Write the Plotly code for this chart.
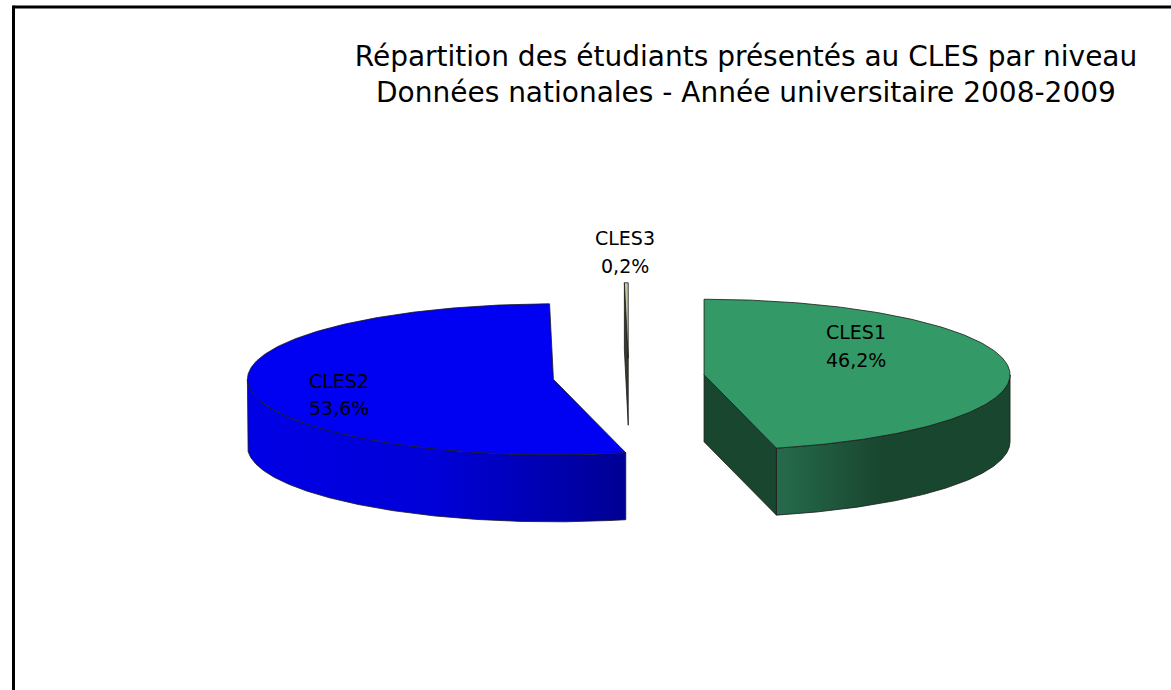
import numpy as np
import plotly.graph_objects as go

# Data
categories = ["CLES1", "CLES2", "CLES3"]
shares = [46.2, 53.6, 0.2]
title_lines = ["Répartition des étudiants présentés au CLES par niveau",
               "Données nationales - Année universitaire 2008-2009"]

# Style / projection of the tilted pie
top_colors = {"CLES1": "#339966", "CLES2": "#0000F2", "CLES3": "#C9C9A6"}
cut_colors = {"CLES1": "#19462E", "CLES2": "#000090", "CLES3": "#3A3A2C"}
wall_scales = {
    "CLES1": [[0, "#266B4C"], [0.45, "#19462E"], [1, "#19462E"]],
    "CLES2": [[0, "#0000E6"], [0.5, "#0000D8"], [1, "#000094"]],
    "CLES3": [[0, "#3A3A2C"], [1, "#3A3A2C"]],
}
CX, CY, RX, RY, DEPTH, EXPLODE = 628.7, 377.0, 306.0, 75.5, 67.0, 0.248
label_pos = {"CLES1": (856, 332, 360), "CLES2": (339, 381, 408), "CLES3": (625, 238, 266)}
FONT = "Comic Sans MS, DejaVu Sans, sans-serif"
EDGE = dict(color="#1a1a1a", width=0.8)

fig = go.Figure()


def rim(cx, cy, a1, a2, n=240):
    t = np.radians(np.linspace(a1, a2, n))
    return cx + RX * np.cos(t), cy - RY * np.sin(t)


def poly(x, y, fill=None, gradient=None, line=EDGE):
    kw = dict(fillgradient=gradient) if gradient else dict(fillcolor=fill)
    fig.add_trace(go.Scatter(x=list(x) + [x[0]], y=list(y) + [y[0]], mode="lines",
                             fill="toself", line=line, hoverinfo="skip",
                             showlegend=False, **kw))


# Angles run clockwise from twelve o'clock, in the order of the data
edges = 90 - 3.6 * np.concatenate([[0], np.cumsum(shares)])
slices = list(zip(categories, edges[:-1], edges[1:]))

for name, start, end in sorted(slices, key=lambda s: {"CLES3": 0, "CLES2": 1, "CLES1": 2}[s[0]]):
    mid = np.radians((start + end) / 2)
    cx = CX + RX * EXPLODE * np.cos(mid)
    cy = CY - RY * EXPLODE * np.sin(mid)

    # outer wall: the part of the rim that faces the viewer
    lo, hi = max(end, -180), min(start, 0)
    if hi > lo:
        xr, yr = rim(cx, cy, hi, lo)
        wx = np.concatenate([xr, xr[::-1]])
        wy = np.concatenate([yr, yr[::-1] + DEPTH])
        grad = dict(type="horizontal", colorscale=wall_scales[name],
                    start=float(xr.min()), stop=float(xr.max()))
        poly(wx, wy, gradient=grad)

    # cut faces that look towards the viewer
    for ang, sign in ((end, -1), (start, 1)):
        if sign * np.cos(np.radians(ang)) < -1e-9:
            rx_, ry_ = rim(cx, cy, ang, ang, 1)
            poly([cx, rx_[0], rx_[0], cx], [cy, ry_[0], ry_[0] + DEPTH, cy + DEPTH],
                 fill=cut_colors[name])

    # top face
    xr, yr = rim(cx, cy, start, end)
    poly(np.concatenate([[cx], xr]), np.concatenate([[cy], yr]), fill=top_colors[name])

annotations = []
for name, share in zip(categories, shares):
    x, y1, y2 = label_pos[name]
    for text, y in ((name, y1), (f"{share:.1f}%".replace(".", ","), y2)):
        annotations.append(dict(x=x, y=y, text=text, showarrow=False, xref="x", yref="y",
                                font=dict(family=FONT, size=19, color="black")))
annotations.append(dict(x=746, y=92, text=title_lines[1], showarrow=False, xref="x", yref="y",
                        font=dict(family=FONT, size=28, color="black")))

fig.update_layout(
    width=1171, height=690, margin=dict(l=0, r=0, t=0, b=0),
    paper_bgcolor="white", plot_bgcolor="white", showlegend=False,
    title=dict(text=title_lines[0], x=746 / 1171, xanchor="center", y=1 - 56 / 690, yanchor="middle",
               font=dict(family=FONT, size=28, color="black")),
    xaxis=dict(range=[0, 1171], visible=False, fixedrange=True),
    yaxis=dict(range=[690, 0], visible=False, fixedrange=True),
    annotations=annotations,
    shapes=[
        dict(type="line", xref="x", yref="y", x0=13.5, x1=1171, y0=7, y1=7, line=dict(color="black", width=3)),
        dict(type="line", xref="x", yref="y", x0=13.5, x1=13.5, y0=5.5, y1=690, line=dict(color="black", width=3)),
    ],
)

fig.write_html("out.html", config={"displayModeBar": False},
               post_script="document.body.style.margin='0';document.body.style.overflow='hidden';")
